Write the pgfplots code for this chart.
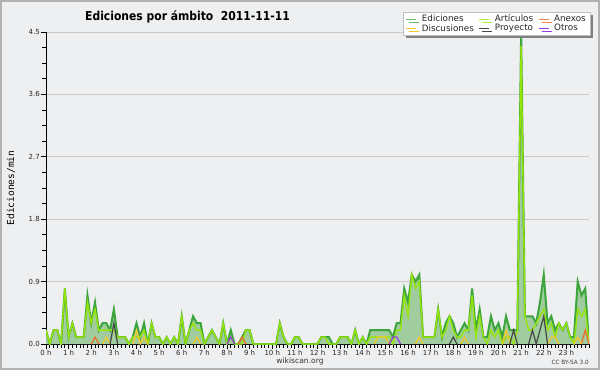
\documentclass[border=0pt]{standalone}
\usepackage{fontspec}
\setmainfont{DejaVu Sans}
\newfontfamily\monofont{DejaVu Sans Mono}
\newfontfamily\condfont[FakeStretch=0.88]{DejaVu Sans}
\usepackage{pgfplots}
\pgfplotsset{compat=1.18}
\usepackage{pgfplotstable}
\usetikzlibrary{shadows}
\definecolor{bg}{RGB}{238,239,240}
\definecolor{edline}{RGB}{60,165,60}
\definecolor{edfill}{RGB}{160,204,160}
\definecolor{artcol}{RGB}{150,228,10}
\definecolor{anxcol}{RGB}{240,110,40}
\definecolor{discol}{RGB}{245,200,40}
\definecolor{procol}{RGB}{70,70,70}
\definecolor{otrcol}{RGB}{150,60,230}
\definecolor{gridcol}{RGB}{200,200,200}

\pgfplotstableread{
i tot art
0 0.2 0.2
1 0.0 0.0
2 0.2 0.2
3 0.2 0.2
4 0.0 0.0
5 0.8 0.8
6 0.1 0.1
7 0.3 0.3
8 0.1 0.1
9 0.1 0.1
10 0.1 0.1
11 0.7 0.6
12 0.3 0.3
13 0.6 0.5
14 0.2 0.2
15 0.3 0.2
16 0.3 0.2
17 0.2 0.2
18 0.5 0.2
19 0.1 0.1
20 0.1 0.1
21 0.1 0.1
22 0.0 0.0
23 0.1 0.1
24 0.3 0.1
25 0.1 0.1
26 0.3 0.2
27 0.0 0.0
28 0.3 0.3
29 0.1 0.1
30 0.1 0.1
31 0.0 0.0
32 0.1 0.1
33 0.0 0.0
34 0.1 0.1
35 0.0 0.0
36 0.4 0.4
37 0.0 0.0
38 0.2 0.2
39 0.4 0.3
40 0.3 0.2
41 0.3 0.2
42 0.0 0.0
43 0.1 0.1
44 0.2 0.2
45 0.1 0.1
46 0.0 0.0
47 0.3 0.3
48 0.0 0.0
49 0.2 0.1
50 0.0 0.0
51 0.0 0.0
52 0.1 0.0
53 0.2 0.2
54 0.2 0.2
55 0.0 0.0
56 0.0 0.0
57 0.0 0.0
58 0.0 0.0
59 0.0 0.0
60 0.0 0.0
61 0.0 0.0
62 0.3 0.3
63 0.1 0.1
64 0.0 0.0
65 0.0 0.0
66 0.1 0.1
67 0.1 0.1
68 0.0 0.0
69 0.0 0.0
70 0.0 0.0
71 0.0 0.0
72 0.0 0.0
73 0.1 0.1
74 0.1 0.1
75 0.1 0.0
76 0.0 0.0
77 0.0 0.0
78 0.1 0.1
79 0.1 0.1
80 0.1 0.1
81 0.0 0.0
82 0.2 0.2
83 0.0 0.0
84 0.1 0.1
85 0.0 0.0
86 0.2 0.1
87 0.2 0.1
88 0.2 0.1
89 0.2 0.1
90 0.2 0.1
91 0.2 0.1
92 0.1 0.0
93 0.3 0.2
94 0.3 0.2
95 0.8 0.7
96 0.6 0.4
97 1.0 1.0
98 0.9 0.8
99 1.0 0.9
100 0.1 0.1
101 0.1 0.1
102 0.1 0.1
103 0.1 0.1
104 0.5 0.5
105 0.1 0.1
106 0.3 0.2
107 0.4 0.4
108 0.3 0.2
109 0.1 0.1
110 0.2 0.1
111 0.3 0.2
112 0.2 0.2
113 0.8 0.7
114 0.2 0.1
115 0.5 0.4
116 0.1 0.1
117 0.1 0.0
118 0.4 0.2
119 0.2 0.1
120 0.3 0.2
121 0.1 0.0
122 0.4 0.1
123 0.2 0.1
124 0.2 0.0
125 0.2 0.2
126 4.5 4.3
127 0.4 0.4
128 0.4 0.2
129 0.4 0.2
130 0.3 0.3
131 0.6 0.4
132 1.0 0.5
133 0.3 0.2
134 0.4 0.3
135 0.2 0.1
136 0.3 0.3
137 0.2 0.2
138 0.3 0.3
139 0.1 0.1
140 0.1 0.0
141 0.9 0.5
142 0.7 0.4
143 0.8 0.5
144 0.0 0.0
}\datatab

\begin{document}
\begin{tikzpicture}[x=1bp,y=1bp]
\fill[bg] (0,0) rectangle (600,370);
\draw[black!30, line width=2bp] (1,1) rectangle (599,369);
\useasboundingbox (0,0) rectangle (600,370);
\begin{axis}[
  at={(46bp,26bp)}, anchor=south west,
  scale only axis, width=543bp, height=312bp,
  xmin=0, xmax=144, ymin=0, ymax=4.5,
  axis lines=left,
  axis line style={-, black, line width=1bp},
  every outer x axis line/.append style={-},
  every outer y axis line/.append style={-},
  every inner x axis line/.append style={-},
  every inner y axis line/.append style={-},
  xtick={0,6,12,18,24,30,36,42,48,54,60,66,72,78,84,90,96,102,108,114,120,126,132,138},
  xticklabels={0 h,1 h,2 h,3 h,4 h,5 h,6 h,7 h,8 h,9 h,10 h,11 h,12 h,13 h,14 h,15 h,16 h,17 h,18 h,19 h,20 h,21 h,22 h,23 h},
  minor xtick={0,1,...,144},
  ytick={0,0.9,1.8,2.7,3.6,4.5},
  yticklabels={0.0,0.9,1.8,2.7,3.6,4.5},
  minor ytick={0.225,0.45,0.675,1.125,1.35,1.575,2.025,2.25,2.475,2.925,3.15,3.375,3.825,4.05,4.275},
  tick align=outside,
  major tick length=5bp, minor tick length=4bp,
  tick style={black, line width=0.8bp},
  ymajorgrids, grid style={gridcol, line width=0.8bp},
  ticklabel style={font=\fontsize{7}{8}\selectfont, text=black!85},
  xticklabel style={inner sep=1bp},
  yticklabel style={inner sep=1bp},
  legend columns=3,
  legend image code/.code={\draw[#1] (0bp,0bp) -- (10bp,0bp); \path (14bp,0bp);},
  legend style={at={(1.002,1.064)}, anchor=north east, fill=white, draw=black!25, line width=0.6bp,
    font=\fontsize{8.8}{9}\selectfont, text=black!85, inner xsep=3bp, inner ysep=1.5bp,
    row sep=-1bp,
    nodes={inner sep=1bp},
    /tikz/every even column/.append style={column sep=4bp},
    drop shadow={shadow xshift=3bp, shadow yshift=-3bp, fill=black!50, opacity=1}},
  legend cell align=left,
]
\addplot[draw=none, fill=edfill, forget plot] table[x=i,y=tot]{\datatab} \closedcycle;
\addplot[edline, line width=2bp, forget plot] table[x=i,y=tot]{\datatab};
\addplot[artcol, line width=1.4bp, forget plot] table[x=i,y=art]{\datatab};
% Anexos
\addplot[anxcol, line width=1.2bp, forget plot] coordinates {(12,0) (13,0.1) (14,0)};
\addplot[anxcol, line width=1.2bp, forget plot] coordinates {(51,0) (52,0.1) (53,0)};
\addplot[anxcol, line width=1.2bp, forget plot] coordinates {(142,0) (143,0.2) (144,0)};
% Discusiones
\addplot[discol, line width=1.2bp, forget plot] coordinates {(15,0) (16,0.1) (17,0)};
\addplot[discol, line width=1.2bp, forget plot] coordinates {(23,0) (24,0.2) (25,0) (26,0.1) (27,0)};
\addplot[discol, line width=1.2bp, forget plot] coordinates {(39,0) (40,0.1) (41,0)};
\addplot[discol, line width=1.2bp, forget plot] coordinates {(87,0) (88,0.1) (89,0.1) (90,0.1) (91,0)};
\addplot[discol, line width=1.2bp, forget plot] coordinates {(98,0) (99,0.1) (100,0)};
\addplot[discol, line width=1.2bp, forget plot] coordinates {(110,0) (111,0.1) (112,0)};
\addplot[discol, line width=1.2bp, forget plot] coordinates {(121,0) (122,0.2) (123,0)};
\addplot[discol, line width=1.2bp, forget plot] coordinates {(133,0) (134,0.1) (135,0.1) (136,0)};
\addplot[discol, line width=1.2bp, forget plot] coordinates {(140,0) (141,0.1) (142,0)};
% Proyecto
\addplot[procol, line width=1.2bp, forget plot] coordinates {(17,0) (18,0.3) (19,0)};
\addplot[procol, line width=1.2bp, forget plot] coordinates {(107,0) (108,0.1) (109,0)};
\addplot[procol, line width=1.2bp, forget plot] coordinates {(123,0) (124,0.2) (125,0)};
\addplot[procol, line width=1.2bp, forget plot] coordinates {(128,0) (129,0.2) (130,0) (131,0.2) (132,0.4) (133,0)};
% Otros
\addplot[otrcol, line width=1.2bp, forget plot] coordinates {(48,0) (49,0.1) (50,0)};
\addplot[otrcol, line width=1.2bp, forget plot] coordinates {(91,0) (92,0.1) (93,0.1) (94,0)};
% legend
\addlegendimage{color=edline!75!white, line width=1bp}
\addlegendentry{Ediciones}
\addlegendimage{color=artcol!75!white, line width=1bp}
\addlegendentry{Artículos}
\addlegendimage{color=anxcol!85!white, line width=1bp}
\addlegendentry{Anexos}
\addlegendimage{color=discol, line width=1bp}
\addlegendentry{Discusiones}
\addlegendimage{color=procol, line width=1bp}
\addlegendentry{Proyecto}
\addlegendimage{color=otrcol, line width=1bp}
\addlegendentry{Otros}
\end{axis}
\node[anchor=west, inner sep=0pt, font=\condfont\bfseries\fontsize{12.3}{14}\selectfont] at (85,353.5) {Ediciones por ámbito\ \ 2011-11-11};
\node[rotate=90, inner sep=0pt, font=\monofont\fontsize{9.6}{11}\selectfont] at (11,182) {Ediciones/min};
\node[inner sep=0pt, font=\fontsize{7.6}{9}\selectfont, text=black!80] at (300,9) {wikiscan.org};
\node[anchor=east, inner sep=0pt, font=\fontsize{5.8}{7}\selectfont, text=black!75] at (589,7.5) {CC BY-SA 3.0};
\end{tikzpicture}
\end{document}
